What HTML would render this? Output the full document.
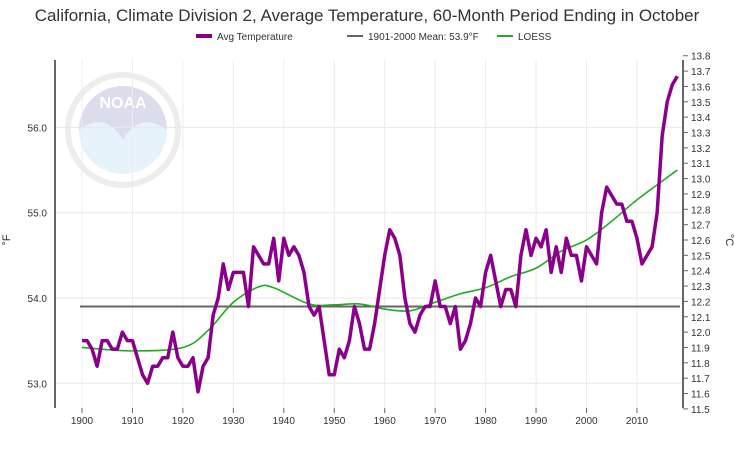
<!DOCTYPE html>
<html><head><meta charset="utf-8"><style>
body{margin:0;background:#fff;font-family:"Liberation Sans",Arial,sans-serif}
svg text{font-family:"Liberation Sans",Arial,sans-serif}
</style></head><body>
<svg id="c" width="735" height="450">
<text x="367" y="21" text-anchor="middle" font-size="17" fill="#333">California, Climate Division 2, Average Temperature, 60-Month Period Ending in October</text>
<g>
<g><line x1="196" y1="36" x2="212" y2="36" stroke="#8b008b" stroke-width="4"/><text x="217" y="40" font-size="10" fill="#333">Avg Temperature</text></g>
<g><line x1="347" y1="36" x2="363" y2="36" stroke="#666" stroke-width="2"/><text x="368" y="40" font-size="10" fill="#333">1901-2000 Mean: 53.9°F</text></g>
<g><line x1="497" y1="36" x2="513" y2="36" stroke="#22aa22" stroke-width="2"/><text x="518" y="40" font-size="10" fill="#333">LOESS</text></g>
</g>
<g opacity="0.25">
<circle cx="123" cy="130" r="55" fill="none" stroke="#bbb" stroke-width="6"/>
<circle cx="123" cy="130" r="44" fill="#9fd0f0"/>
<path d="M79 130 A44 44 0 0 1 167 130 Q140 110 123 140 Q105 110 79 130 Z" fill="#7878b8"/>
<text x="123" y="108" text-anchor="middle" font-size="16" font-weight="bold" fill="#fff">NOAA</text>
</g>
<g id="grid"></g><g id="axes"></g><g id="series"></g>
<text transform="translate(10,240) rotate(-90)" text-anchor="middle" font-size="11" fill="#333">°F</text>
<text transform="translate(726,240) rotate(90)" text-anchor="middle" font-size="11" fill="#333">°C</text>
</svg>
<script>
const years=[];for(let y=1900;y<=2018;y++)years.push(y);
const avgTemp=[53.5,53.5,53.4,53.2,53.5,53.5,53.4,53.4,53.6,53.5,53.5,53.3,53.1,53.0,53.2,53.2,53.3,53.3,53.6,53.3,53.2,53.2,53.3,52.9,53.2,53.3,53.8,54.0,54.4,54.1,54.3,54.3,54.3,53.9,54.6,54.5,54.4,54.4,54.7,54.2,54.7,54.5,54.6,54.5,54.3,53.9,53.8,53.9,53.5,53.1,53.1,53.4,53.3,53.5,53.9,53.7,53.4,53.4,53.7,54.1,54.5,54.8,54.7,54.5,54.0,53.7,53.6,53.8,53.9,53.9,54.2,53.9,53.9,53.7,53.9,53.4,53.5,53.7,54.0,53.9,54.3,54.5,54.2,53.9,54.1,54.1,53.9,54.5,54.8,54.5,54.7,54.6,54.8,54.3,54.6,54.3,54.7,54.5,54.5,54.2,54.6,54.5,54.4,55.0,55.3,55.2,55.1,55.1,54.9,54.9,54.7,54.4,54.5,54.6,55.0,55.9,56.3,56.5,56.6];
const loessYears=[1900,1910,1920,1925,1930,1935,1938,1945,1950,1955,1960,1965,1970,1975,1980,1985,1990,1995,2000,2005,2010,2018];
const loessVals=[53.42,53.38,53.42,53.62,53.95,54.13,54.12,53.93,53.92,53.93,53.87,53.85,53.95,54.05,54.12,54.25,54.35,54.55,54.68,54.9,55.15,55.5];
const meanVal=53.9;
const fTicks=[53.0,54.0,55.0,56.0];
const cTicks=[];for(let i=0;i<=23;i++)cTicks.push(+(11.5+i*0.1).toFixed(1));
const xTicks=[1900,1910,1920,1930,1940,1950,1960,1970,1980,1990,2000,2010];
const NS='http://www.w3.org/2000/svg';
const X=y=>82+(y-1900)*5.045, Y=v=>298-(v-54)*85.3, YC=c=>Y(c*9/5+32);
function el(t,a,p){const e=document.createElementNS(NS,t);for(const k in a)e.setAttribute(k,a[k]);document.getElementById(p).appendChild(e);return e;}
function smooth(pts){let d='M'+pts[0][0]+','+pts[0][1];for(let i=0;i<pts.length-1;i++){const p0=pts[i-1]||pts[i],p1=pts[i],p2=pts[i+1],p3=pts[i+2]||p2;d+='C'+(p1[0]+(p2[0]-p0[0])/6)+','+(p1[1]+(p2[1]-p0[1])/6)+' '+(p2[0]-(p3[0]-p1[0])/6)+','+(p2[1]-(p3[1]-p1[1])/6)+' '+p2[0]+','+p2[1];}return d;}
fTicks.forEach(v=>{
const g=el('line',{x1:55,x2:683,y1:Y(v),y2:Y(v),stroke:'#e8e8e8'},'grid');


const t=el('text',{x:47,y:Y(v)+4,'text-anchor':'end','font-size':10,fill:'#333'},'axes');t.textContent=v.toFixed(1);


});
xTicks.forEach(y=>{
const g=el('line',{x1:X(y),x2:X(y),y1:60,y2:408,stroke:'#ececec'},'grid');


el('line',{x1:X(y),x2:X(y),y1:408,y2:413,stroke:'#666'},'axes');
const t=el('text',{x:X(y),y:424,'text-anchor':'middle','font-size':10,fill:'#333'},'axes');t.textContent=y;


});
cTicks.forEach(c=>{
el('line',{x1:683,x2:688,y1:YC(c),y2:YC(c),stroke:'#666'},'axes');
const t=el('text',{x:691,y:YC(c)+4,'font-size':10,fill:'#333'},'axes');t.textContent=c.toFixed(1);


});
const la=el('line',{x1:55,x2:55,y1:60,y2:408,stroke:'#666','stroke-width':2},'axes');


const ra=el('line',{x1:683,x2:683,y1:60,y2:408,stroke:'#666','stroke-width':2},'axes');


const ml=el('line',{x1:80,x2:680,y1:Y(meanVal),y2:Y(meanVal),stroke:'#666','stroke-width':2},'series');


const lo=el('path',{d:smooth(loessYears.map((y,i)=>[X(y),Y(loessVals[i])])),fill:'none',stroke:'#22aa22','stroke-width':1.6},'series');


const av=el('path',{d:'M'+years.map((y,i)=>X(y)+','+Y(avgTemp[i])).join('L'),fill:'none',stroke:'#8b008b','stroke-width':3.5,'stroke-linejoin':'round'},'series');


</script>
</body></html>
